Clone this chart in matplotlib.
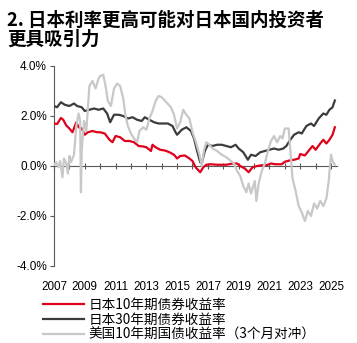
import matplotlib
matplotlib.use("Agg")
import matplotlib.pyplot as plt

# JGB 10y
jgb10_t = [2007.0, 2007.2, 2007.45, 2007.6, 2007.8, 2008.0, 2008.2, 2008.45, 2008.6, 2008.8,
           2009.0, 2009.2, 2009.5, 2009.8, 2010.0, 2010.3, 2010.6, 2010.8, 2011.0, 2011.3,
           2011.6, 2011.9, 2012.2, 2012.5, 2012.8, 2013.0, 2013.3, 2013.4, 2013.6, 2013.9,
           2014.2, 2014.5, 2014.8, 2015.0, 2015.2, 2015.5, 2015.8, 2016.0, 2016.2, 2016.5,
           2016.7, 2016.9, 2017.2, 2017.6, 2017.9, 2018.2, 2018.6, 2018.9, 2019.1, 2019.4,
           2019.65, 2019.9, 2020.2, 2020.5, 2020.8, 2021.1, 2021.4, 2021.8, 2022.0, 2022.3,
           2022.6, 2022.9, 2023.0, 2023.3, 2023.6, 2023.8, 2024.0, 2024.3, 2024.5, 2024.7,
           2024.9, 2025.1, 2025.25]
jgb10 = [1.70, 1.68, 1.92, 1.85, 1.62, 1.50, 1.35, 1.75, 1.55, 1.50,
         1.25, 1.35, 1.40, 1.35, 1.35, 1.30, 1.05, 0.95, 1.20, 1.15,
         1.00, 1.00, 0.95, 0.80, 0.78, 0.75, 0.60, 0.85, 0.75, 0.65,
         0.62, 0.55, 0.45, 0.30, 0.40, 0.42, 0.30, 0.20, -0.05, -0.25,
         -0.05, 0.05, 0.07, 0.05, 0.05, 0.05, 0.10, 0.10, 0.00, -0.10,
         -0.25, -0.05, 0.00, 0.03, 0.03, 0.10, 0.07, 0.07, 0.17, 0.22,
         0.25, 0.30, 0.48, 0.42, 0.65, 0.80, 0.65, 0.90, 1.05, 0.90,
         1.05, 1.25, 1.55]

# JGB 30y
jgb30_t = [2007.0, 2007.2, 2007.45, 2007.7, 2008.0, 2008.3, 2008.5, 2008.8, 2009.0, 2009.3,
           2009.6, 2009.9, 2010.2, 2010.45, 2010.65, 2010.9, 2011.2, 2011.5, 2011.8, 2012.1,
           2012.4, 2012.7, 2012.9, 2013.2, 2013.5, 2013.8, 2014.1, 2014.4, 2014.7, 2014.9,
           2015.0, 2015.3, 2015.6, 2015.9, 2016.1, 2016.3, 2016.5, 2016.6, 2016.8, 2017.0,
           2017.3, 2017.6, 2017.9, 2018.2, 2018.5, 2018.8, 2019.0, 2019.3, 2019.6, 2019.8,
           2020.1, 2020.4, 2020.7, 2021.0, 2021.3, 2021.6, 2021.9, 2022.1, 2022.3, 2022.6,
           2022.9, 2023.1, 2023.4, 2023.7, 2023.9, 2024.2, 2024.5, 2024.7, 2024.9, 2025.1,
           2025.25]
jgb30 = [2.40, 2.35, 2.55, 2.45, 2.40, 2.50, 2.40, 2.35, 2.20, 2.25,
         2.30, 2.25, 2.30, 2.10, 1.75, 2.05, 2.05, 2.00, 1.90, 1.95,
         1.85, 1.80, 1.95, 1.85, 1.75, 1.70, 1.70, 1.70, 1.60, 1.35,
         1.25, 1.45, 1.55, 1.40, 1.10, 0.60, 0.15, 0.10, 0.60, 0.85,
         0.80, 0.85, 0.85, 0.80, 0.75, 0.85, 0.70, 0.55, 0.25, 0.45,
         0.40, 0.55, 0.60, 0.65, 0.70, 0.65, 0.70, 0.80, 1.00, 1.25,
         1.35, 1.30, 1.60, 1.70, 1.60, 1.90, 2.10, 2.05, 2.25, 2.35,
         2.62]

# US 10y, 3m hedged
ust_t = [2007.0, 2007.15, 2007.3, 2007.4, 2007.55, 2007.65, 2007.8, 2007.9, 2008.0, 2008.1,
         2008.3, 2008.45, 2008.6, 2008.7, 2008.75, 2008.8, 2008.95, 2009.1, 2009.3, 2009.5,
         2009.7, 2009.9, 2010.0, 2010.2, 2010.35, 2010.5, 2010.7, 2010.9, 2011.1, 2011.3,
         2011.5, 2011.65, 2011.8, 2012.0, 2012.2, 2012.4, 2012.55, 2012.8, 2013.0, 2013.2,
         2013.4, 2013.6, 2013.8, 2014.0, 2014.3, 2014.6, 2014.8, 2015.0, 2015.2, 2015.4,
         2015.6, 2015.8, 2016.0, 2016.2, 2016.45, 2016.6, 2016.75, 2016.9, 2017.1, 2017.3,
         2017.6, 2017.9, 2018.2, 2018.5, 2018.7, 2018.9, 2019.1, 2019.3, 2019.5, 2019.65,
         2019.8, 2019.9, 2020.05, 2020.15, 2020.3, 2020.5, 2020.7, 2020.9, 2021.1, 2021.3,
         2021.5, 2021.7, 2021.85, 2022.0, 2022.25, 2022.4, 2022.5, 2022.7, 2022.9, 2023.1,
         2023.3, 2023.5, 2023.7, 2023.9, 2024.1, 2024.3, 2024.5, 2024.7, 2024.85, 2025.0,
         2025.1, 2025.25]
ust = [0.05, 0.15, -0.05, 0.20, -0.45, 0.30, 0.10, -0.30, 0.40, 0.15,
       0.45, 1.60, 2.10, 1.80, -1.05, 0.60, 1.80, 1.40, 3.20, 3.40,
       3.10, 3.50, 3.60, 3.65, 3.20, 2.60, 2.40, 3.10, 3.30, 3.20,
       2.70, 2.00, 1.60, 1.30, 1.10, 0.95, 1.40, 1.55, 1.45, 1.90,
       2.20, 2.60, 2.80, 2.75, 2.55, 2.35, 2.05, 1.50, 1.75, 2.25,
       2.05, 1.90, 1.35, 1.00, 0.45, 0.00, 0.65, 0.95, 0.85, 0.70,
       0.60, 0.45, 0.35, 0.20, 0.10, -0.20, -0.40, -0.80, -1.05, -0.70,
       -1.10, -0.90, -0.60, -1.40, -0.70, -0.20, 0.10, 0.60, 1.00, 1.20,
       0.95, 1.20, 1.10, 1.50, 1.50, 0.30, -0.50, -1.00, -1.60, -1.85,
       -2.20, -1.80, -2.00, -1.50, -1.70, -1.40, -1.60, -1.30, -0.60, 0.45,
       0.20, 0.05]

labels = ["日本10年期债券收益率", "日本30年期债券收益率", "美国10年期国债收益率（3个月对冲）"]
year_ticks = list(range(2007, 2026))
year_labels = [str(y) for y in range(2007, 2026, 2)]
y_ticks = [-4, -2, 0, 2, 4]

plt.rcParams['font.family'] = ['Liberation Sans', 'Noto Sans CJK SC']

fig = plt.figure(figsize=(3.57, 3.43), dpi=100)
ax = fig.add_axes([54 / 357, 1 - 266 / 343, 283 / 357, 200 / 343])

ax.plot(jgb10_t, jgb10, color="#e0001b", lw=1.6, label=labels[0], zorder=3)
ax.plot(jgb30_t, jgb30, color="#3c3c3c", lw=1.6, label=labels[1], zorder=3)
ax.plot(ust_t, ust, color="#c8c8c8", lw=1.6, label=labels[2], zorder=3)

ax.set_xlim(2007, 2025.39)
ax.set_ylim(-4, 4)

for s in ["top", "right"]:
    ax.spines[s].set_visible(False)
ax.spines["bottom"].set_position(("data", 0))
ax.spines["bottom"].set_color("#595959")
ax.spines["left"].set_color("#595959")
ax.spines["bottom"].set_linewidth(0.8)
ax.spines["left"].set_linewidth(0.8)

ax.set_xticks(year_ticks)
ax.set_xticklabels([])
ax.tick_params(axis="x", direction="inout", length=5, width=0.8, color="#595959")

ax.set_yticks(y_ticks)
ax.set_yticklabels([f"{v:.1f}%" for v in y_ticks], fontsize=8.5)
ax.tick_params(axis="y", direction="out", length=3, width=0.8, color="#595959", pad=2)

sec = ax.secondary_xaxis("bottom")
sec.set_xticks(list(range(2007, 2026, 2)))
sec.set_xticklabels(year_labels, fontsize=8.4)
sec.tick_params(length=0, pad=11)
sec.spines["bottom"].set_visible(False)

fig.text(7 / 357, 1 - 11 / 343, "2. 日本利率更高可能对日本国内投资者\n更具吸引力",
         fontsize=13.3, fontweight="bold", family=["Noto Sans CJK SC"],
         va="top", ha="left", linespacing=1.0)

leg = fig.legend(loc="upper left", bbox_to_anchor=(36 / 357, 1 - 291 / 343),
                 frameon=False, prop={"family": "Noto Sans CJK SC", "size": 9.8},
                 handlelength=3.0, handletextpad=0.35, labelspacing=0.08, borderpad=0)

fig.savefig("out.png", dpi=100)
